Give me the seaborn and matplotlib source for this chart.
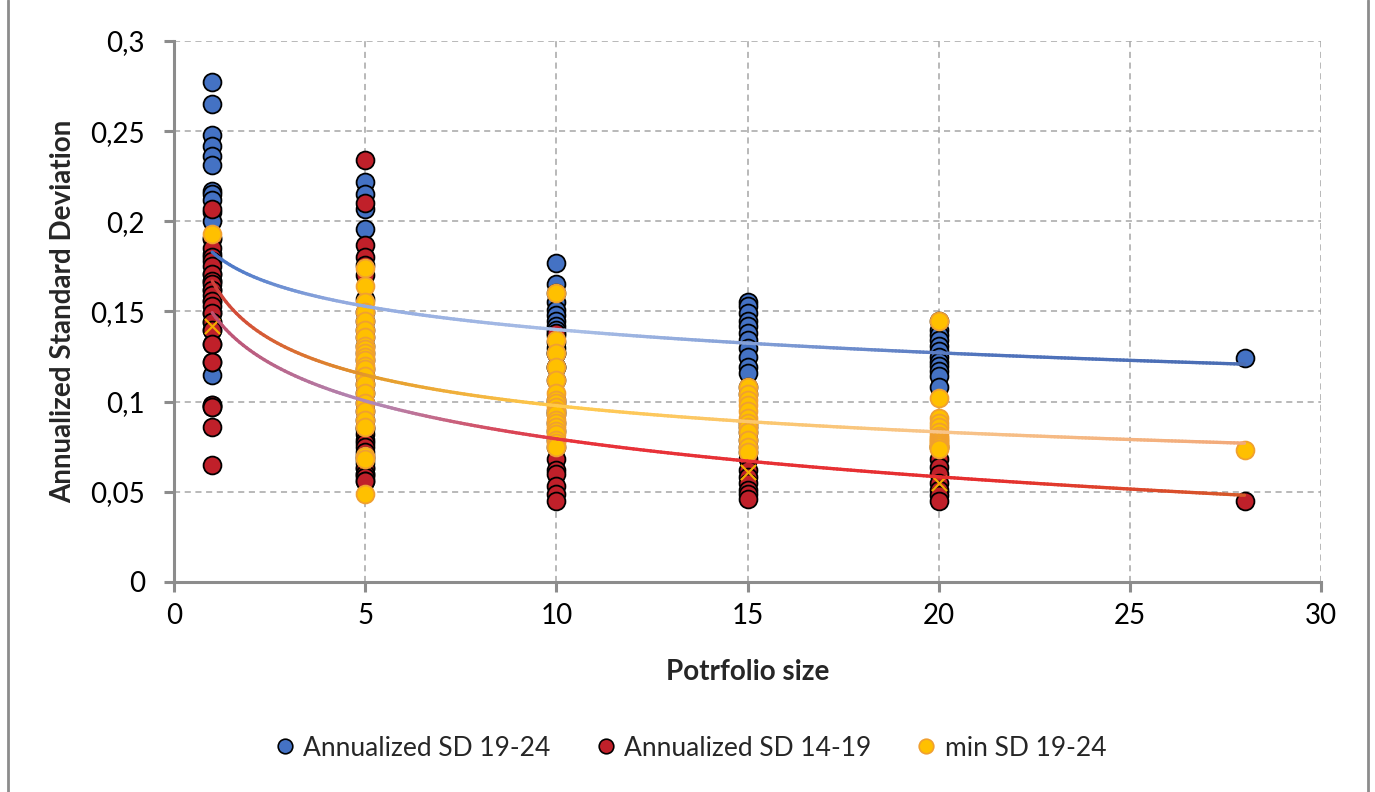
import numpy as np
import pandas as pd
import matplotlib
matplotlib.use("Agg")
import matplotlib.pyplot as plt
from matplotlib.lines import Line2D
from matplotlib.collections import LineCollection
from matplotlib.colors import LinearSegmentedColormap
from matplotlib.ticker import FuncFormatter, MultipleLocator
import seaborn as sns

# portfolio sizes
sizes = [1, 5, 10, 15, 20, 28]

# Annualized SD 19-24 (blue), one list per portfolio size
# (some points sit exactly under red / yellow markers)
blue_1 = [0.277, 0.265, 0.248, 0.242, 0.236, 0.231, 0.217, 0.215, 0.212, 0.205, 0.200, 0.191, 0.182, 0.115,
          0.171, 0.167, 0.162, 0.156, 0.149, 0.144, 0.140, 0.132, 0.122, 0.098, 0.097]
blue_5 = [0.222, 0.215, 0.207, 0.196, 0.157, 0.150, 0.145, 0.140, 0.136, 0.131, 0.127, 0.123, 0.118, 0.114, 0.110]
blue_10 = [0.177, 0.165, 0.160, 0.155, 0.151, 0.148, 0.145, 0.142, 0.140, 0.137, 0.133, 0.130,
           0.127, 0.119, 0.112, 0.127, 0.119]
blue_15 = [0.155, 0.153, 0.149, 0.145, 0.142, 0.138, 0.134, 0.130, 0.125, 0.119, 0.116, 0.108, 0.104]
blue_20 = [0.145, 0.140, 0.137, 0.134, 0.131, 0.128, 0.125, 0.122, 0.120, 0.117, 0.114, 0.108]
blue_28 = [0.124]

# Annualized SD 14-19 (red)
red_1 = [0.207, 0.190, 0.185, 0.180, 0.178, 0.175, 0.171, 0.167, 0.165, 0.162, 0.159, 0.156, 0.153, 0.149,
         0.144, 0.140, 0.132, 0.122, 0.098, 0.097, 0.086, 0.065]
red_5 = [0.234, 0.210, 0.187, 0.180, 0.176, 0.170, 0.105, 0.099, 0.095, 0.090, 0.086, 0.085, 0.082, 0.079,
         0.077, 0.075, 0.072, 0.070, 0.068, 0.066, 0.063, 0.063, 0.060, 0.060, 0.058, 0.056, 0.056]
red_10 = [0.138, 0.101, 0.099, 0.095, 0.093, 0.088, 0.084, 0.079, 0.075, 0.068, 0.062, 0.060, 0.053, 0.049, 0.045]
red_15 = [0.088, 0.086, 0.083, 0.079, 0.075, 0.072, 0.068, 0.062, 0.058, 0.055, 0.051, 0.049, 0.046]
red_20 = [0.075, 0.068, 0.064, 0.060, 0.055, 0.051, 0.048, 0.045]
red_28 = [0.045]

# min SD 19-24 (yellow)
yel_1 = [0.193]
yel_5 = [0.174, 0.164, 0.155, 0.150, 0.145, 0.140, 0.136, 0.131, 0.129, 0.127, 0.125, 0.123, 0.120, 0.118,
         0.114, 0.110, 0.105, 0.099, 0.095, 0.090, 0.086, 0.070, 0.068, 0.049]
yel_10 = [0.160, 0.134, 0.127, 0.119, 0.112, 0.105, 0.101, 0.099, 0.097, 0.095, 0.093, 0.090, 0.088,
          0.086, 0.084, 0.082, 0.079, 0.077, 0.075]
yel_15 = [0.108, 0.104, 0.101, 0.098, 0.095, 0.091, 0.088, 0.086, 0.083, 0.079, 0.075, 0.072]
yel_20 = [0.145, 0.102, 0.091, 0.088, 0.086, 0.083, 0.081, 0.080, 0.079, 0.078, 0.077,
          0.076, 0.076, 0.075, 0.075, 0.074]
yel_28 = [0.073]

# orange cross markers
cross_x = [1, 15, 20]
cross_y = [0.142, 0.061, 0.055]

series_names = ["Annualized SD 19-24", "Annualized SD 14-19", "min SD 19-24"]


def to_frame(cols, name, xs=sizes):
    rows = []
    for s, vals in zip(xs, cols):
        rows += [(s, v, name) for v in vals]
    return pd.DataFrame(rows, columns=["size", "sd", "series"])


blue_df = to_frame([blue_1, blue_5, blue_10, blue_15, blue_20, blue_28], series_names[0])
red_df = to_frame([red_1, red_5, red_10, red_15, red_20, red_28], series_names[1])
yel_df = to_frame([yel_1, yel_5, yel_10, yel_15, yel_20, yel_28], series_names[2])
cross_df = to_frame([[v] for v in cross_y], "cross", cross_x)

sns.set_theme(style="white")
plt.rcParams["font.family"] = ["Lato", "DejaVu Sans"]

fig = plt.figure(figsize=(13.75, 7.92), dpi=100)
ax = fig.add_axes([174 / 1375, 1 - 582 / 792, (1321 - 174) / 1375, (582 - 41) / 792])

marker_styles = [
    (blue_df, "#4472C4", "black"),
    (red_df, "#C0202A", "black"),
    (yel_df, "#FFC000", "#F0A030"),
]
for df, fill, edge in marker_styles:
    sns.scatterplot(data=df, x="size", y="sd", ax=ax, s=165, color=fill,
                    edgecolor=edge, linewidth=1.3, legend=False, zorder=3)

sns.scatterplot(data=cross_df, x="size", y="sd", ax=ax, marker="x", s=120, color="#F2A900",
                linewidth=1.6, legend=False, zorder=4)


def gradient_line(x, y, stops):
    cmap = LinearSegmentedColormap.from_list("g", stops)
    pts = np.column_stack([x, y]).reshape(-1, 1, 2)
    segs = np.concatenate([pts[:-1], pts[1:]], axis=1)
    lc = LineCollection(segs, cmap=cmap, linewidth=2.4, zorder=5, capstyle="round")
    lc.set_array((x[:-1] - x.min()) / (x.max() - x.min()))
    lc.set_clim(0, 1)
    ax.add_collection(lc)


# trendlines fitted from the points (log for the two SD series, power for min SD)
xs = np.linspace(1, 28, 300)
b, a = np.polyfit(np.log(blue_df["size"]), blue_df["sd"], 1)
gradient_line(xs, a + b * np.log(xs),
              [(0, "#4472C4"), (0.12, "#92AADF"), (0.35, "#A9BEE6"), (0.55, "#7D9AD4"), (0.75, "#5073BC"), (1, "#4A6DB3")])
b, a = np.polyfit(np.log(red_df["size"]), red_df["sd"], 1)
gradient_line(xs, a + b * np.log(xs),
              [(0, "#BF4F6E"), (0.15, "#B08AB8"), (0.28, "#D8485A"), (0.35, "#E8323A"), (0.75, "#E62E2E"), (1, "#D55A2A")])
b, ln_a = np.polyfit(np.log(yel_df["size"]), np.log(yel_df["sd"]), 1)
gradient_line(xs, np.exp(ln_a) * xs ** b,
              [(0, "#D0403A"), (0.15, "#E39A2B"), (0.33, "#FFC94D"), (0.7, "#F8C58A"), (1, "#F2A97A")])

ax.set_xlim(0, 30)
ax.set_ylim(0, 0.3)
ax.xaxis.set_major_locator(MultipleLocator(5))
ax.yaxis.set_major_locator(MultipleLocator(0.05))
ax.yaxis.set_major_formatter(FuncFormatter(
    lambda v, p: f"{v:.2f}".rstrip("0").rstrip(".").replace(".", ",") if abs(v) > 1e-9 else "0"))

ax.grid(True, color="#A6A6A6", linestyle=(0, (4, 3)), linewidth=1.1)
ax.set_axisbelow(True)
for side in ["top", "right"]:
    ax.spines[side].set_visible(False)
for side in ["left", "bottom"]:
    ax.spines[side].set_color("#8C8C8C")
    ax.spines[side].set_linewidth(2.2)
ax.tick_params(axis="both", direction="out", length=7, width=2.2, color="#8C8C8C",
               labelsize=20, labelcolor="black", left=True, bottom=True)
ax.tick_params(axis="y", pad=14)
ax.tick_params(axis="x", pad=8)

ax.set_xlabel("Potrfolio size", fontsize=20, fontweight="bold", labelpad=22)
ax.set_ylabel("Annualized Standard Deviation", fontsize=20, fontweight="bold", labelpad=10)

handles = [Line2D([], [], linestyle="none", marker="o", markersize=10.5, markerfacecolor=f,
                  markeredgecolor=e, markeredgewidth=1.2) for _, f, e in marker_styles]
fig.legend(handles, series_names, loc="center", bbox_to_anchor=(689 / 1375, 1 - 748 / 792), ncol=3,
           frameon=False, fontsize=19, handlelength=1.0, handletextpad=0.2, columnspacing=1.58)

for xp in [8 / 1375, 1368 / 1375]:
    fig.add_artist(Line2D([xp, xp], [0, 1], transform=fig.transFigure, color="#8C8C8C", linewidth=2))

fig.savefig("out.png", dpi=100, facecolor="white")
